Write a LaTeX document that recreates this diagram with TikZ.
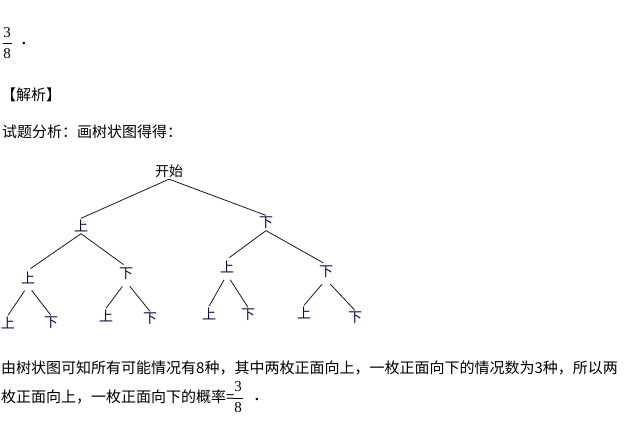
\documentclass[tikz,border=0pt]{standalone}
\usepackage{fontspec}
\setmainfont{Noto Sans CJK SC}
\newfontfamily\numfont{Liberation Serif}
\definecolor{treeInk}{RGB}{10, 10, 70}
\usetikzlibrary{positioning}

\tikzset{
  lbl/.style={font=\fontsize{14}{14}\selectfont, text=treeInk, inner sep=1.5pt},
  txt/.style={anchor=west, inner sep=0pt, font=\fontsize{15}{15}\selectfont},
  num/.style={inner sep=0pt, font=\numfont\fontsize{15}{15}\selectfont},
  branch/.style={line width=0.8pt, black!90}
}

\begin{document}
\begin{tikzpicture}[x=1pt, y=-1pt]
  \useasboundingbox (0,0) rectangle (630,438);

  % Answer 3/8 and heading
  \node[num] (ansTop) at (7,33) {3};
  \node[num] (ansBot) at (7,54) {8};
  \draw[line width=0.8pt] (3,43) -- (12,43);
  \node[num, font=\numfont\bfseries\fontsize{15}{15}\selectfont] (ansDot) at (24,44) {.};
  \node[txt] (head) at (1,95) {【解析】};
  \node[txt] (intro) at (2,132) {试题分析：画树状图得得：};

  % Tree nodes
  \node[lbl, text=black] (start) at (169,171) {开始};
  \node[lbl] (u) at (81,226) {上};
  \node[lbl] (d) at (266,223) {下};
  \node[lbl] (uu) at (28,278) {上};
  \node[lbl] (ud) at (126,274) {下};
  \node[lbl] (du) at (227,267) {上};
  \node[lbl] (dd) at (326,272) {下};
  \node[lbl] (uuu) at (8,323) {上};
  \node[lbl] (uud) at (51,323) {下};
  \node[lbl] (udu) at (106,316) {上};
  \node[lbl] (udd) at (150,319) {下};
  \node[lbl] (duu) at (209,314) {上};
  \node[lbl] (dud) at (248,315) {下};
  \node[lbl] (ddu) at (304,313) {上};
  \node[lbl] (ddd) at (355,318) {下};

  % Branches
  \draw[branch] (start.south) -- (u.north);
  \draw[branch] (start.south) -- (d.north);
  \foreach \p/\c in {u/uu, u/ud, d/du, d/dd} {
    \draw[branch, shorten >=3pt] (\p.south) -- (\c.north);
  }
  \foreach \p/\c in {uu/uuu, uu/uud, ud/udu, ud/udd, du/duu, du/dud, dd/ddu, dd/ddd} {
    \draw[branch, shorten <=6pt] (\p.south) -- (\c.north);
  }

  % Conclusion
  \node[txt] (line1) at (1,368) {由树状图可知所有可能情况有8种，其中两枚正面向上，一枚正面向下的情况数为3种，所以两};
  \node[txt] (line2) at (1,397) {枚正面向上，一枚正面向下的概率=};
  \node[num] (fracTop) at (238,387) {3};
  \node[num] (fracBot) at (238,408) {8};
  \draw[line width=0.8pt] (233,398) -- (243,398);
  \node[num, font=\numfont\bfseries\fontsize{15}{15}\selectfont] (dot2) at (257,399) {.};
\end{tikzpicture}
\end{document}
